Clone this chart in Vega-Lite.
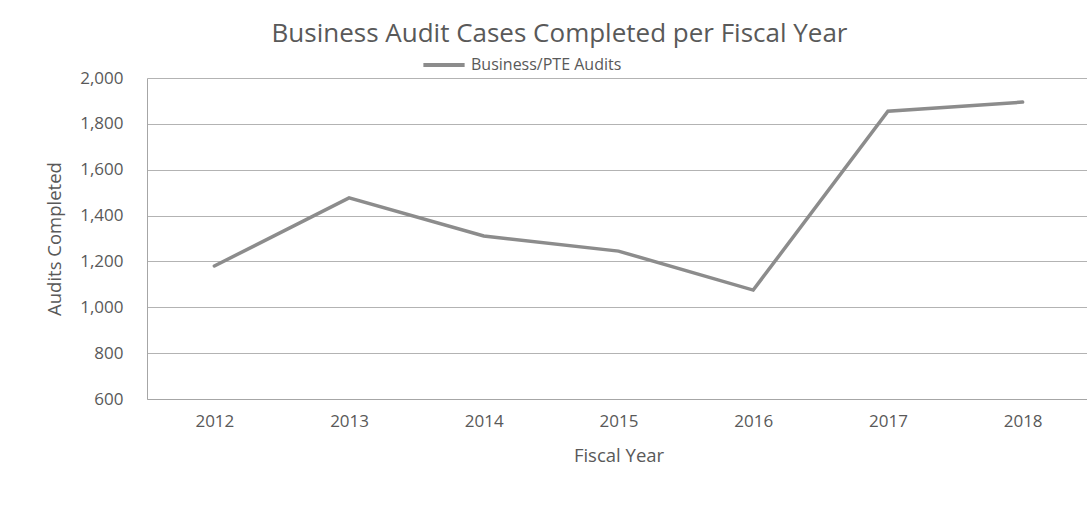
{
  "$schema": "https://vega.github.io/schema/vega-lite/v6.json",
  "autosize": {"type": "none"},
  "width": 943,
  "height": 321,
  "padding": {"left": 147, "top": 78, "right": 0, "bottom": 109},
  "background": "white",
  "title": {
    "text": "Business Audit Cases Completed per Fiscal Year",
    "anchor": "middle",
    "dx": -59,
    "dy": 11,
    "offset": 6,
    "fontSize": 26,
    "font": "Open Sans",
    "fontWeight": "normal",
    "color": "#595959"
  },
  "config": {
    "view": {"stroke": null},
    "font": "Open Sans",
    "axis": {
      "labelFont": "Open Sans",
      "titleFont": "Open Sans",
      "labelColor": "#595959",
      "titleColor": "#595959",
      "labelFontSize": 17,
      "titleFontSize": 18.5,
      "titleFontWeight": "normal",
      "gridColor": "#b3b3b3",
      "gridWidth": 1,
      "domainColor": "#a6a6a6",
      "ticks": false
    }
  },
  "data": {
    "values": [
      {"year": "2012", "audits": 1180, "series": "Business/PTE Audits"},
      {"year": "2013", "audits": 1477, "series": "Business/PTE Audits"},
      {"year": "2014", "audits": 1311, "series": "Business/PTE Audits"},
      {"year": "2015", "audits": 1245, "series": "Business/PTE Audits"},
      {"year": "2016", "audits": 1075, "series": "Business/PTE Audits"},
      {"year": "2017", "audits": 1855, "series": "Business/PTE Audits"},
      {"year": "2018", "audits": 1895, "series": "Business/PTE Audits"}
    ]
  },
  "mark": {"type": "line", "strokeWidth": 3.5, "strokeCap": "round"},
  "encoding": {
    "x": {
      "field": "year",
      "type": "ordinal",
      "title": "Fiscal Year",
      "scale": {"paddingInner": 0, "paddingOuter": 0.5},
      "axis": {"labelAngle": 0, "labelPadding": 14, "titlePadding": 17, "grid": false, "domain": true}
    },
    "y": {
      "field": "audits",
      "type": "quantitative",
      "title": "Audits Completed",
      "scale": {"domain": [600, 2000], "nice": false, "zero": false},
      "axis": {"values": [600, 800, 1000, 1200, 1400, 1600, 1800, 2000], "format": ",.0f", "labelPadding": 24, "titlePadding": 15, "grid": true, "domain": true}
    },
    "color": {
      "field": "series",
      "type": "nominal",
      "scale": {"range": ["#8c8c8c"]},
      "legend": {
        "title": null,
        "orient": "none",
        "legendX": 274,
        "legendY": -36,
        "symbolType": "stroke",
        "symbolSize": 1700,
        "symbolStrokeWidth": 4,
        "labelFontSize": 16,
        "labelColor": "#595959",
        "labelFont": "Open Sans",
        "labelOffset": 4
      }
    }
  }
}
